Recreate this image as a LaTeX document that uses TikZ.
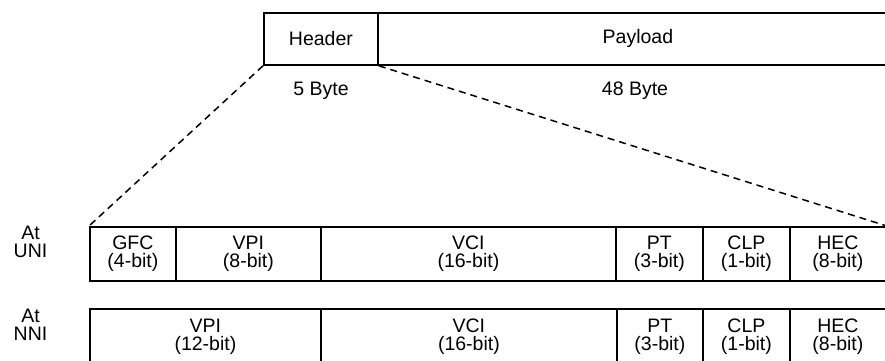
\documentclass[tikz,border=0pt]{standalone}
\usepackage{fontspec}
\setmainfont{Liberation Sans}
\begin{document}
\begin{tikzpicture}[x=1pt,y=-1pt,
  cell/.style={draw, line width=1.8pt, inner sep=0pt, align=center, anchor=north west,
    font=\fontsize{19.5}{18}\selectfont},
  lbl/.style={inner sep=0pt, align=center, font=\fontsize{19.5}{18}\selectfont},
  zoomline/.style={line width=1.5pt, dash pattern=on 7pt off 5pt}]
\useasboundingbox (0,0) rectangle (885,360);
% top cell
\node[cell, minimum width=114pt, minimum height=52pt] (hdr) at (263,12) {Header};
\node[cell, minimum width=520pt, minimum height=52pt] (pay) at (377,12) {Payload};
\node[lbl] (b5) at (321,91) {5 Byte};
\node[lbl] (b48) at (635,91) {48 Byte};
% UNI row
\node[lbl] (uni) at (30.5,242) {At\\UNI};
\node[cell, minimum width=86pt, minimum height=54pt] (gfc) at (89,226) {GFC\\(4-bit)};
\node[cell, minimum width=145pt, minimum height=54pt] (uvpi) at (175,226) {VPI\\(8-bit)};
\node[cell, minimum width=295pt, minimum height=54pt] (uvci) at (320,226) {VCI\\(16-bit)};
\node[cell, minimum width=87pt, minimum height=54pt] (upt) at (615,226) {PT\\(3-bit)};
\node[cell, minimum width=87pt, minimum height=54pt] (uclp) at (702,226) {CLP\\(1-bit)};
\node[cell, minimum width=96pt, minimum height=54pt] (uhec) at (789,226) {HEC\\(8-bit)};
% NNI row
\node[lbl] (nni) at (30.5,325) {At\\NNI};
\node[cell, minimum width=231pt, minimum height=55pt] (nvpi) at (89,308) {VPI\\(12-bit)};
\node[cell, minimum width=296pt, minimum height=55pt] (nvci) at (320,308) {VCI\\(16-bit)};
\node[cell, minimum width=86pt, minimum height=55pt] (npt) at (616,308) {PT\\(3-bit)};
\node[cell, minimum width=87pt, minimum height=55pt] (nclp) at (702,308) {CLP\\(1-bit)};
\node[cell, minimum width=96pt, minimum height=55pt] (nhec) at (789,308) {HEC\\(8-bit)};
% zoom lines
\draw[zoomline] (hdr.south west) -- (gfc.north west);
\draw[zoomline] (hdr.south east) -- (uhec.north east);
\end{tikzpicture}
\end{document}
